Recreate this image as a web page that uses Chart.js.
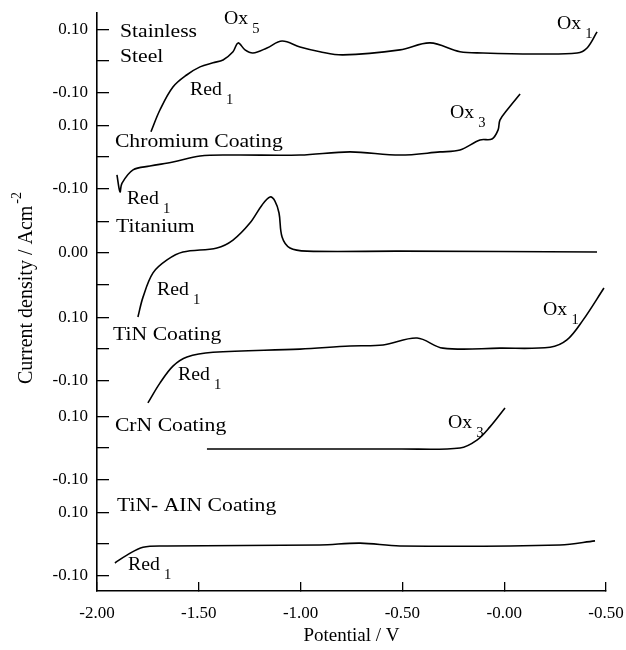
<!DOCTYPE html>
<html>
<head>
<meta charset="utf-8">
<script src="https://cdn.jsdelivr.net/npm/chart.js@4.4.1/dist/chart.umd.min.js"></script>
<style>
  html, body { margin: 0; padding: 0; background: #fff; }
  #wrap { width: 626px; height: 650px; }
</style>
</head>
<body>
<div id="wrap"><canvas id="cvChart"></canvas></div>
<script>
// potential (V) and current density (A cm-2)
const ssV = [-1.735, -1.691, -1.627, -1.558, -1.494, -1.430, -1.381, -1.332, -1.307, -1.273, -1.234, -1.165, -1.091, -1.003, -0.905, -0.792, -0.512, -0.364, -0.217, -0.104, 0.141, 0.358, 0.407, 0.456];
const ssI = [-0.225, -0.156, -0.083, -0.044, -0.019, -0.006, 0.003, 0.029, 0.057, 0.035, 0.025, 0.041, 0.063, 0.044, 0.029, 0.019, 0.035, 0.057, 0.029, 0.025, 0.022, 0.025, 0.041, 0.092];

const crV = [-1.902, -1.887, -1.877, -1.823, -1.740, -1.627, -1.494, -1.332, -1.003, -0.757, -0.512, -0.315, -0.217, -0.119, -0.060, -0.030, -0.021, 0.014, 0.078];
const crI = [-0.057, -0.111, -0.083, -0.041, -0.029, -0.016, 0.003, 0.006, 0.006, 0.016, 0.006, 0.016, 0.022, 0.054, 0.057, 0.086, 0.117, 0.149, 0.200];

const tiV = [-1.799, -1.774, -1.725, -1.656, -1.578, -1.411, -1.332, -1.249, -1.190, -1.150, -1.126, -1.106, -1.091, -1.052, -0.969, -0.512, 0.456];
const tiI = [-0.203, -0.140, -0.063, -0.022, 0.003, 0.016, 0.041, 0.095, 0.152, 0.178, 0.165, 0.127, 0.051, 0.016, 0.006, 0.006, 0.003];

const tinV = [-1.750, -1.691, -1.627, -1.558, -1.430, -1.003, -0.757, -0.595, -0.428, -0.301, -0.021, 0.225, 0.308, 0.387, 0.490];
const tinI = [-0.171, -0.108, -0.054, -0.025, -0.010, 0.000, 0.010, 0.013, 0.035, 0.003, 0.003, 0.006, 0.029, 0.092, 0.194];

const crnV = [-1.460, -1.003, -0.512, -0.217, -0.134, -0.070, 0.004];
const crnI = [-0.003, -0.003, -0.003, 0.000, 0.025, 0.067, 0.127];

const alnV = [-1.912, -1.853, -1.774, -1.656, -0.905, -0.708, -0.512, 0.274, 0.446];
const alnI = [-0.060, -0.035, -0.010, -0.006, -0.003, 0.003, -0.006, -0.003, 0.010];

const panelNames = ["Stainless Steel", "Chromium Coating", "Titanium", "TiN Coating", "CrN Coating", "TiN- AIN Coating"];
const panelTickLabels = [
  ["0.10", "", "-0.10"],
  ["0.10", "", "-0.10"],
  ["", "0.00", ""],
  ["0.10", "", "-0.10"],
  ["0.10", "", "-0.10"],
  ["0.10", "", "-0.10"]
];
const xTickLabels = ["-2.00", "-1.50", "-1.00", "-0.50", "-0.00", "-0.50"];

// layout: vertical shift of each trace on the shared axis
const panelOffset = [1.683, 1.378, 1.073, 0.768, 0.454, 0.149];
const traces = [[ssV, ssI], [crV, crI], [tiV, tiI], [tinV, tinI], [crnV, crnI], [alnV, alnI]];

// tick positions built from the offsets
let yTicks = [];
panelOffset.forEach((off, p) => {
  yTicks.push({ value: off + 0.1, label: panelTickLabels[p][0] });
  yTicks.push({ value: off, label: panelTickLabels[p][1] });
  yTicks.push({ value: off - 0.1, label: panelTickLabels[p][2] });
});
yTicks.sort((a, b) => a.value - b.value);

// text annotations: [text, subscript, potential, axis position]
const notes = [
  ["Stainless", "", -1.887, 1.775],
  ["Steel", "", -1.887, 1.695],
  ["Ox", "5", -1.376, 1.816],
  ["Red", "1", -1.543, 1.590],
  ["Ox", "1", 0.259, 1.800],
  ["Ox", "3", -0.266, 1.517],
  ["Chromium Coating", "", -1.912, 1.425],
  ["Red", "1", -1.853, 1.244],
  ["Titanium", "", -1.907, 1.156],
  ["Red", "1", -1.705, 0.956],
  ["TiN Coating", "", -1.921, 0.813],
  ["Red", "1", -1.602, 0.686],
  ["Ox", "1", 0.191, 0.892],
  ["CrN Coating", "", -1.912, 0.524],
  ["Ox", "3", -0.276, 0.533],
  ["TiN- AIN Coating", "", -1.902, 0.270],
  ["Red", "1", -1.848, 0.083]
];

const FONT = "'Liberation Serif', 'Times New Roman', serif";

const notePlugin = {
  id: "notes",
  afterDraw(chart) {
    const c = chart.ctx;
    const xs = chart.scales.x, ys = chart.scales.y;
    c.save();
    c.fillStyle = "#000";
    c.textBaseline = "middle";
    c.textAlign = "left";
    notes.forEach(n => {
      const px = xs.getPixelForValue(n[2]);
      const py = ys.getPixelForValue(n[3]);
      c.save();
      c.translate(px, py);
      // the source type is a little wider than it is tall
      c.scale(n[1] ? 1.04 : 1.14, 1);
      c.font = "19px " + FONT;
      c.fillText(n[0], 0, 0);
      if (n[1]) {
        const w = c.measureText(n[0]).width;
        c.font = "14px " + FONT;
        c.fillText(n[1], w + 4, 10);
      }
      c.restore();
    });

    // y axis title with superscript
    c.translate(27, 288);
    c.rotate(-Math.PI / 2);
    c.textAlign = "left";
    c.font = "20px " + FONT;
    const main = "Current density / Acm";
    const mw = c.measureText(main).width;
    c.font = "14px " + FONT;
    const sw = c.measureText("-2").width;
    const start = -(mw + sw + 2) / 2;
    c.font = "20px " + FONT;
    c.fillText(main, start, 0);
    c.font = "14px " + FONT;
    c.fillText("-2", start + mw + 2, -10);
    c.restore();
  }
};

new Chart(document.getElementById("cvChart"), {
  type: "line",
  data: {
    datasets: traces.map((t, p) => ({
      label: panelNames[p],
      data: t[0].map((v, i) => ({ x: v, y: panelOffset[p] + t[1][i] })),
      borderColor: "#000",
      borderWidth: 1.6,
      pointRadius: 0,
      fill: false,
      tension: 0.35
    }))
  },
  options: {
    responsive: true,
    maintainAspectRatio: false,
    animation: false,
    layout: { padding: { top: 13, right: 20, bottom: 0, left: 0 } },
    plugins: {
      legend: { display: false },
      tooltip: { enabled: false }
    },
    scales: {
      x: {
        type: "linear",
        min: -2,
        max: 0.5,
        afterBuildTicks: s => { s.ticks = [-2, -1.5, -1, -0.5, 0, 0.5].map(v => ({ value: v })); },
        afterFit: s => { s.height = 59; s.paddingLeft = 0; s.paddingRight = 0; },
        grid: { drawOnChartArea: false, drawTicks: true, tickLength: -9, color: "#000", lineWidth: 1.3 },
        border: { display: true, color: "#000", width: 1.6 },
        ticks: {
          padding: 21,
          color: "#000",
          font: { family: FONT, size: 17 },
          maxRotation: 0,
          autoSkip: false,
          callback: (v, i) => xTickLabels[i]
        },
        title: {
          display: true,
          text: "Potential / V",
          color: "#000",
          font: { family: FONT, size: 19 },
          padding: { top: 0, bottom: 3 }
        }
      },
      y: {
        type: "linear",
        min: 0,
        max: 1.835,
        afterBuildTicks: s => { s.ticks = yTicks.map(t => ({ value: t.value })); },
        afterFit: s => { s.width = 97; s.paddingTop = 0; s.paddingBottom = 0; },
        grid: { drawOnChartArea: false, drawTicks: true, tickLength: -12, color: "#000", lineWidth: 1.3 },
        border: { display: true, color: "#000", width: 1.6 },
        ticks: {
          padding: 21,
          color: "#000",
          font: { family: FONT, size: 17 },
          autoSkip: false,
          callback: (v, i) => yTicks[i].label
        }
      }
    }
  },
  plugins: [notePlugin]
});
</script>
</body>
</html>
